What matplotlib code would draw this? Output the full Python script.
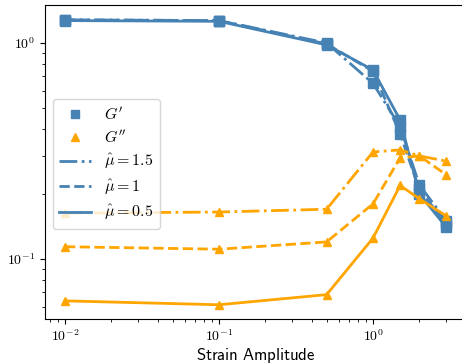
import matplotlib
matplotlib.use("Agg")
import matplotlib.pyplot as plt
from matplotlib.lines import Line2D
from matplotlib import ticker
import math

plt.rcParams['mathtext.fontset'] = 'cm'

strain = [0.01, 0.1, 0.5, 1.0, 1.5, 2.0, 3.0]

gp_mu15 = [1.28, 1.27, 1.00, 0.65, 0.41, 0.22, 0.15]
gp_mu1 = [1.28, 1.27, 0.99, 0.74, 0.38, 0.21, 0.145]
gp_mu05 = [1.27, 1.26, 0.98, 0.75, 0.44, 0.20, 0.14]

gpp_mu15 = [0.163, 0.165, 0.17, 0.313, 0.32, 0.30, 0.284]
gpp_mu1 = [0.114, 0.111, 0.12, 0.18, 0.294, 0.30, 0.245]
gpp_mu05 = [0.064, 0.0614, 0.0684, 0.125, 0.219, 0.19, 0.158]

mu_labels = [r'$\hat{\mu}=1.5$', r'$\hat{\mu}=1$', r'$\hat{\mu}=0.5$']
styles = ['-.', '--', '-']

blue = '#4682B4'
orange = '#FFA500'

W, H = 462, 364
fig = plt.figure(figsize=(W / 100, H / 100), dpi=100)
left, right, top, bottom = 45, 467, 5, 319
ax = fig.add_axes([left / W, (H - bottom) / H, (right - left) / W, (bottom - top) / H])

for gp, ls in zip([gp_mu15, gp_mu1, gp_mu05], styles):
    ax.plot(strain, gp, ls, color=blue, marker='s', markersize=7, lw=2)
for gpp, ls in zip([gpp_mu15, gpp_mu1, gpp_mu05], styles):
    ax.plot(strain, gpp, ls, color=orange, marker='^', markersize=6, lw=2)

ax.set_xscale('log')
ax.set_yscale('log')
ax.set_xlim(10 ** (-2 - 20 / 154), 10 ** ((right - 373) / 154))
ax.set_ylim(10 ** (-(bottom - 43) / 216), 10 ** ((43 - top) / 216))

fmt = ticker.FuncFormatter(lambda v, p: r'$10^{%d}$' % round(math.log10(v)))
ax.xaxis.set_major_formatter(fmt)
ax.yaxis.set_major_formatter(fmt)
ax.xaxis.set_minor_formatter(ticker.NullFormatter())
ax.yaxis.set_minor_formatter(ticker.NullFormatter())
ax.tick_params(labelsize=10)
ax.set_xlabel(r'$\mathsf{Strain\ Amplitude}$', fontsize=12, labelpad=1)

handles = [
    Line2D([], [], ls='none', marker='s', color=blue, markersize=6),
    Line2D([], [], ls='none', marker='^', color=orange, markersize=6),
]
for ls in styles:
    handles.append(Line2D([], [], ls=ls, color=blue, lw=2))
labels = [r'$G^\prime$', r'$G^{\prime\prime}$'] + mu_labels
ax.legend(handles, labels, loc='upper left', bbox_to_anchor=(0.019, 0.70),
          borderaxespad=0, fontsize=11.5, labelspacing=0.38)

fig.savefig('out.png', dpi=100)
